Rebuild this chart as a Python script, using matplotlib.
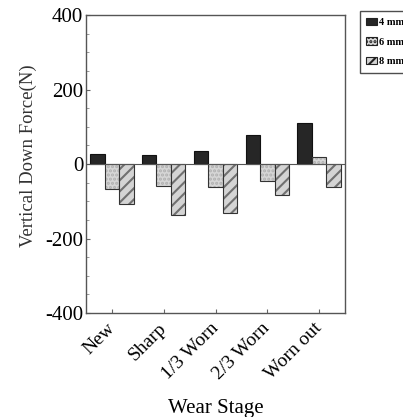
import numpy as np
import matplotlib.pyplot as plt
from matplotlib.ticker import MultipleLocator

stages = ['New', 'Sharp', '1/3 Worn', '2/3 Worn', 'Worn out']
mm4 = [28, 23, 34, 78, 111]
mm6 = [-67, -58, -63, -45, 18]
mm8 = [-107, -137, -131, -83, -63]

plt.rcParams['font.family'] = ['Liberation Serif', 'DejaVu Serif']
plt.rcParams['axes.unicode_minus'] = False
plt.rcParams['hatch.linewidth'] = 1.5

fig = plt.figure(figsize=(4.03, 4.17), dpi=100)
ax = fig.add_axes([0.2134, 0.2494, 0.6427, 0.7146])

x = np.arange(len(stages))
w = 0.28
b1 = ax.bar(x - w, mm4, w, color='#262626', edgecolor='#111111', lw=0.8, label='4 mm')
# light dotted fill for 6 mm, then a dark outline on top
b2 = ax.bar(x, mm6, w, color='#d6d6d6', edgecolor='#b0b0b0', lw=0, hatch='....', label='6 mm')
ax.bar(x, mm6, w, fill=False, edgecolor='#333333', lw=0.8)
b3 = ax.bar(x + w, mm8, w, color='#d4d4d4', edgecolor='#707070', lw=0, hatch='///', label='8 mm')
ax.bar(x + w, mm8, w, fill=False, edgecolor='#333333', lw=0.8)
ax.axhline(0, color='#555555', lw=0.8)

ax.set_xlim(-0.5, 4.5)
ax.set_ylim(-400, 400)
ax.yaxis.set_major_locator(MultipleLocator(200))
ax.yaxis.set_minor_locator(MultipleLocator(50))
ax.set_xticks(x)
ax.set_xticklabels(stages, rotation=45, ha='right', va='center',
                   rotation_mode='anchor', fontsize=14)
ax.tick_params(axis='both', direction='in', length=3, color='#666666')
ax.tick_params(axis='y', labelsize=15, pad=2)
ax.tick_params(axis='y', which='minor', direction='in', length=2, color='#888888')
ax.tick_params(axis='x', pad=9)
for s in ax.spines.values():
    s.set_color('#555555')
    s.set_linewidth(1.0)

ax.set_ylabel('Vertical Down Force(N)', fontsize=13.5, color='#333333')
ax.yaxis.set_label_coords(-0.19, 0.527)
ax.set_xlabel('Wear Stage', fontsize=15, labelpad=11.5)

leg = fig.legend(handles=[b1, b2, b3], loc='upper left', bbox_to_anchor=(0.88, 0.985),
                 prop={'size': 7.5, 'weight': 'bold'}, frameon=True, fancybox=False,
                 edgecolor='#222222', handlelength=1.0, handleheight=0.7,
                 handletextpad=0.2, labelspacing=1.0, borderpad=0.6)
leg.get_frame().set_linewidth(1.0)
for h in leg.legend_handles:
    h.set_edgecolor('#222222')
    h.set_linewidth(0.8)

fig.savefig('out.png', dpi=100)
